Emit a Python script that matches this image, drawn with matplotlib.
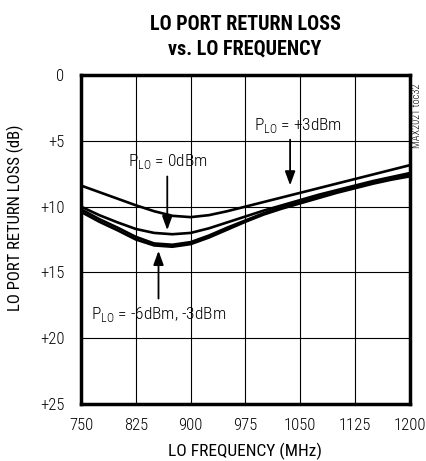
import numpy as np
import matplotlib
matplotlib.use("Agg")
import matplotlib.pyplot as plt

# data (frequency in MHz, return loss in dB)
freq = [750, 775, 800, 825, 850, 875, 900, 925, 950, 975, 1000, 1025, 1050, 1075, 1100, 1125, 1150, 1175, 1200]
rl_p3 = [8.4, 8.9, 9.4, 9.9, 10.35, 10.7, 10.8, 10.65, 10.35, 10.0, 9.65, 9.3, 8.95, 8.6, 8.25, 7.9, 7.55, 7.2, 6.85]
rl_0 = [10.0, 10.65, 11.2, 11.7, 12.0, 12.1, 12.0, 11.65, 11.2, 10.75, 10.3, 9.9, 9.5, 9.1, 8.75, 8.4, 8.05, 7.75, 7.45]
rl_m3 = [10.2, 10.95, 11.6, 12.3, 12.8, 12.9, 12.7, 12.2, 11.6, 11.05, 10.5, 10.05, 9.65, 9.25, 8.85, 8.5, 8.15, 7.85, 7.55]
rl_m6 = [10.4, 11.15, 11.8, 12.5, 12.95, 13.05, 12.85, 12.35, 11.75, 11.15, 10.6, 10.15, 9.75, 9.35, 8.95, 8.6, 8.25, 7.95, 7.7]

xticks = [750, 825, 900, 975, 1050, 1125, 1200]
yticks = [0, 5, 10, 15, 20, 25]
ytick_labels = ["0", "+5", "+10", "+15", "+20", "+25"]

font = ["Roboto Condensed", "Liberation Sans Narrow", "DejaVu Sans"]
plt.rcParams["font.family"] = font
plt.rcParams["font.weight"] = "light"
plt.rcParams["mathtext.fontset"] = "custom"
plt.rcParams["mathtext.rm"] = "Roboto Condensed:light"

fig = plt.figure(figsize=(4.27, 4.61), dpi=100)
W, H = 427, 461
ax = fig.add_axes([81 / W, 1 - 404 / H, 329 / W, 329 / H])

for rl in (rl_p3, rl_0, rl_m3, rl_m6):
    ax.plot(freq, rl, color="black", lw=1.9, solid_capstyle="round")

ax.set_xlim(750, 1200)
ax.set_ylim(25, 0)
ax.set_xticks(xticks)
ax.set_yticks(yticks)
ax.set_yticklabels(ytick_labels)
ax.grid(True, color="black", lw=0.8)
ax.tick_params(length=0, labelsize=12)
ax.tick_params(axis="x", pad=10)
ax.tick_params(axis="y", pad=12)
for s in ax.spines.values():
    s.set_linewidth(2.5)

ax.set_xlabel("LO FREQUENCY (MHz)", fontsize=12.5)
ax.xaxis.set_label_coords(0.5, -(443 - 404) / 329)
ax.set_ylabel("LO PORT RETURN LOSS (dB)", fontsize=12)
ax.yaxis.set_label_coords(-57 / 329, 0.565)

fig.text(245 / W, 1 - 24 / H, "LO PORT RETURN LOSS", ha="center", va="center",
         fontsize=14.5, fontweight="black")
fig.text(245 / W, 1 - 49 / H, "vs. LO FREQUENCY", ha="center", va="center",
         fontsize=14.5, fontweight="black")
fig.text(417 / W, 1 - 116 / H, "MAX2021 toc32", rotation=90, ha="center", va="center", fontsize=7.5)

arrow = dict(arrowstyle="-|>,head_length=0.6,head_width=0.22", color="black", lw=1.3, mutation_scale=14)
ax.annotate("", xy=(1036, 8.6), xytext=(1036, 4.7), arrowprops=arrow)
ax.text(1047, 3.8, "P$_{\\mathregular{LO}}$ = +3dBm", ha="center", va="center", fontsize=12.5)
ax.annotate("", xy=(868, 12.0), xytext=(868, 7.5), arrowprops=arrow)
ax.text(868, 6.6, "P$_{\\mathregular{LO}}$ = 0dBm", ha="center", va="center", fontsize=12.5)
ax.annotate("", xy=(856, 13.15), xytext=(856, 17.2), arrowprops=arrow)
ax.text(763, 18.2, "P$_{\\mathregular{LO}}$ = -6dBm, -3dBm", ha="left", va="center", fontsize=12.5)

fig.savefig("out.png", dpi=100)
